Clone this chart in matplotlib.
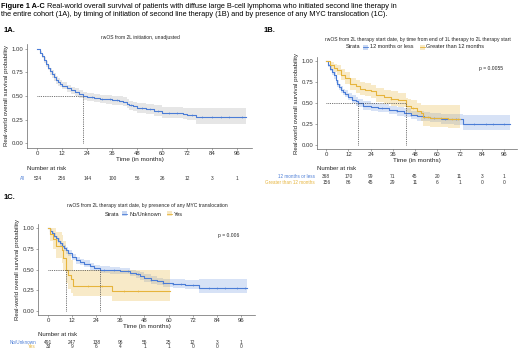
import numpy as np
import matplotlib
matplotlib.use("Agg")
import matplotlib.pyplot as plt
from matplotlib.transforms import blended_transform_factory
from matplotlib.patches import Rectangle
from matplotlib.lines import Line2D

plt.rcParams["font.family"] = ["Liberation Sans", "DejaVu Sans"]

W, H = 520, 351
BLUE = "#4a7cd6"
GOLD = "#e6b43c"
AX_COL = "#666666"

TICKS = [0, 12, 24, 36, 48, 60, 72, 84, 96]

# 1A - all patients
a_t = [0, 1, 2, 3, 4, 5, 6, 7, 8, 9, 10, 11, 12, 14, 16, 18, 20, 22, 24, 27, 30, 33, 36, 39, 41, 43,
       44, 46, 48, 52, 56, 60, 66, 70, 72, 76, 100]
a_s = [1.0, 0.96, 0.92, 0.88, 0.84, 0.80, 0.76, 0.73, 0.70, 0.67, 0.65, 0.63, 0.61, 0.58, 0.56, 0.54,
       0.52, 0.50, 0.49, 0.48, 0.47, 0.465, 0.46, 0.45, 0.44, 0.42, 0.40, 0.39, 0.375, 0.36, 0.34, 0.32,
       0.32, 0.31, 0.30, 0.275, 0.275]
a_lo = [1.0, 0.94, 0.90, 0.85, 0.81, 0.77, 0.72, 0.69, 0.66, 0.63, 0.61, 0.59, 0.57, 0.54, 0.52, 0.50,
        0.48, 0.46, 0.45, 0.44, 0.43, 0.42, 0.41, 0.40, 0.39, 0.37, 0.35, 0.34, 0.32, 0.31, 0.29, 0.27,
        0.27, 0.26, 0.25, 0.20, 0.20]
a_hi = [1.0, 0.98, 0.94, 0.91, 0.87, 0.83, 0.80, 0.77, 0.74, 0.71, 0.69, 0.67, 0.65, 0.62, 0.60, 0.58,
        0.56, 0.54, 0.53, 0.52, 0.51, 0.51, 0.50, 0.50, 0.49, 0.47, 0.45, 0.44, 0.43, 0.42, 0.40, 0.38,
        0.38, 0.37, 0.37, 0.375, 0.375]
a_cens = [26, 31, 35, 38, 45, 50, 54, 58, 63, 67, 74, 79, 84, 88, 92, 98]
a_med = 22
a_risk = [524, 256, 144, 100, 56, 26, 12, 3, 1]

# 1B - time from end of 1L to 2L
b1_t = [0, 1, 2, 3, 4, 5, 6, 7, 8, 9, 10, 12, 14, 16, 17, 20, 24, 28, 34, 38, 42, 46, 49, 53, 56, 62,
        69, 74, 99]
b1_s = [1.0, 0.95, 0.91, 0.87, 0.83, 0.78, 0.73, 0.69, 0.66, 0.63, 0.61, 0.57, 0.54, 0.52, 0.50, 0.47,
        0.45, 0.44, 0.42, 0.40, 0.385, 0.36, 0.34, 0.33, 0.32, 0.31, 0.31, 0.25, 0.25]
b1_lo = [1.0, 0.93, 0.88, 0.83, 0.79, 0.74, 0.69, 0.65, 0.62, 0.59, 0.57, 0.53, 0.50, 0.47, 0.45, 0.42,
         0.41, 0.39, 0.37, 0.35, 0.33, 0.31, 0.29, 0.28, 0.27, 0.25, 0.24, 0.175, 0.175]
b1_hi = [1.0, 0.97, 0.94, 0.91, 0.87, 0.82, 0.77, 0.73, 0.70, 0.67, 0.65, 0.62, 0.59, 0.57, 0.55, 0.52,
         0.50, 0.49, 0.47, 0.45, 0.44, 0.41, 0.40, 0.39, 0.38, 0.37, 0.37, 0.36, 0.36]
b1_cens = [30, 38, 46, 53, 58, 64, 70, 80, 86, 90, 96]
b1_med = 17
b2_t = [0, 2, 4, 6, 8, 10, 13, 16, 18, 21, 24, 27, 31, 35, 39, 43, 44, 46, 49, 51, 52.5, 56, 60, 66, 72]
b2_s = [1.0, 0.95, 0.92, 0.89, 0.84, 0.80, 0.73, 0.70, 0.67, 0.66, 0.64, 0.59, 0.57, 0.55, 0.53, 0.47,
        0.46, 0.44, 0.41, 0.38, 0.33, 0.325, 0.32, 0.31, 0.31]
b2_lo = [1.0, 0.91, 0.87, 0.83, 0.77, 0.73, 0.65, 0.62, 0.59, 0.58, 0.56, 0.51, 0.49, 0.47, 0.45, 0.39,
         0.38, 0.36, 0.33, 0.29, 0.22, 0.21, 0.21, 0.20, 0.20]
b2_hi = [1.0, 0.99, 0.97, 0.95, 0.91, 0.87, 0.80, 0.78, 0.75, 0.74, 0.72, 0.68, 0.66, 0.64, 0.62, 0.56,
         0.55, 0.53, 0.50, 0.48, 0.48, 0.48, 0.48, 0.48, 0.48]
b2_cens = [35, 47, 55, 62, 68, 71]
b2_med = 43
b_risk1 = [368, 170, 99, 71, 45, 20, 11, 3, 1]
b_risk2 = [156, 86, 45, 29, 11, 6, 1, 0, 0]

# 1C - MYC translocation
c1_t = [0, 1, 2, 3, 4, 5, 6, 7, 8, 9, 10, 12, 14, 16, 18, 21, 23, 26, 31, 36, 41, 44, 46, 48, 51, 54,
        57, 62, 68, 75, 99]
c1_s = [1.0, 0.97, 0.94, 0.91, 0.88, 0.85, 0.82, 0.79, 0.76, 0.73, 0.70, 0.65, 0.61, 0.59, 0.57, 0.54,
        0.52, 0.50, 0.49, 0.48, 0.46, 0.44, 0.42, 0.40, 0.37, 0.355, 0.34, 0.33, 0.31, 0.28, 0.28]
c1_lo = [1.0, 0.95, 0.92, 0.88, 0.85, 0.82, 0.79, 0.76, 0.72, 0.69, 0.66, 0.61, 0.57, 0.55, 0.53, 0.50,
         0.48, 0.46, 0.45, 0.44, 0.42, 0.40, 0.37, 0.35, 0.32, 0.31, 0.29, 0.28, 0.27, 0.21, 0.21]
c1_hi = [1.0, 0.99, 0.96, 0.94, 0.91, 0.88, 0.85, 0.82, 0.80, 0.77, 0.74, 0.69, 0.65, 0.63, 0.61, 0.58,
         0.56, 0.54, 0.53, 0.52, 0.50, 0.48, 0.47, 0.45, 0.42, 0.40, 0.39, 0.38, 0.37, 0.39, 0.39]
c1_cens = [28, 33, 40, 45, 51, 57, 62, 66, 72, 80, 84, 88, 94, 98]
c1_med = 26
c2_t = [0, 1, 2.5, 4, 6.7, 7.5, 9, 10, 11.5, 12.5, 31.6, 60.7]
c2_s = [1.0, 0.93, 0.87, 0.78, 0.74, 0.64, 0.50, 0.43, 0.38, 0.30, 0.24, 0.24]
c2_lo = [1.0, 0.85, 0.75, 0.64, 0.58, 0.48, 0.34, 0.27, 0.22, 0.175, 0.12, 0.12]
c2_hi = [1.0, 1.0, 1.0, 0.95, 0.92, 0.84, 0.74, 0.70, 0.62, 0.50, 0.50, 0.50]
c2_cens = [20, 27, 38, 45]
c2_med = 9
c_risk1 = [491, 247, 138, 96, 55, 25, 12, 3, 1]
c_risk2 = [33, 9, 6, 4, 1, 1, 0, 0, 0]

fig = plt.figure(figsize=(W / 100, H / 100), dpi=100)


def fx(x):
    return x / W


def fy(y):
    return 1 - y / H


def px_axes(l, t, r, b):
    return fig.add_axes([fx(l), fy(b), (r - l) / W, (b - t) / H])


def style(ax):
    ax.set_xlim(-5, 103)
    ax.set_ylim(-0.05, 1.05)
    for s in ("top", "right"):
        ax.spines[s].set_visible(False)
    for s in ("left", "bottom"):
        ax.spines[s].set_color(AX_COL)
        ax.spines[s].set_linewidth(0.5)
    ax.set_xticks(TICKS)
    ax.set_yticks([0, 0.25, 0.5, 0.75, 1.0])
    ax.set_yticklabels(["0.00", "0.25", "0.50", "0.75", "1.00"])
    ax.tick_params(labelsize=4.3, length=1.5, width=0.4, color=AX_COL, pad=1, labelcolor="#333333")
    ax.set_xlabel("Time (in months)", fontsize=4.6, labelpad=0.5, color="#222222")
    ax.set_ylabel("Real-world overall survival probability", fontsize=4.4, labelpad=2, color="#222222")
    ax.patch.set_alpha(0)


def km(ax, t, s, lo, hi, color, cens, band=None, alpha=0.22):
    if band is None:
        ax.fill_between(t, lo, hi, step="post", color=color, alpha=alpha, lw=0)
    else:
        ax.fill_between(t, lo, hi, step="post", color=band, lw=0)
    ax.step(t, s, where="post", color=color, lw=0.8)
    t = np.asarray(t)
    s = np.asarray(s)
    idx = np.searchsorted(t, cens, side="right") - 1
    ax.plot(cens, s[idx], ls="none", marker="+", ms=1.8, mew=0.4, color=color)


def medians(ax, meds):
    ax.plot([0, max(meds)], [0.5, 0.5], ls=(0, (1, 1.2)), color="#444444", lw=0.6)
    for m in meds:
        ax.plot([m, m], [0, 0.5], ls=(0, (1, 1.2)), color="#444444", lw=0.6)


def risk_table(ax, title_y, x_title, rows):
    tr = blended_transform_factory(ax.transData, fig.transFigure)
    fig.text(fx(x_title), fy(title_y), "Number at risk", fontsize=4.3, va="center", color="#222222")
    for label, color, vals, y in rows:
        fig.text(fx(x_title - 2), fy(y), label, fontsize=3.3, va="center", ha="right", color=color)
        for tk, v in zip(TICKS, vals):
            ax.text(tk, fy(y), str(v), transform=tr, fontsize=3.5, ha="center", va="center",
                    color="#333333")


def legend(cx, y, labels):
    # "Strata" + keys laid out centred on cx
    r = fig.canvas.get_renderer()
    t0 = fig.text(0, 0, "Strata", fontsize=4.0)
    w0 = t0.get_window_extent(r).width
    t0.remove()
    widths = []
    for lab, _ in labels:
        tt = fig.text(0, 0, lab, fontsize=4.0)
        widths.append(tt.get_window_extent(r).width)
        tt.remove()
    key = 5
    gap = 3
    total = w0 + gap + sum(key + 2 + w + gap * 2 for w in widths)
    x = cx - total / 2
    fig.text(fx(x), fy(y), "Strata", fontsize=4.0, va="center", color="#222222")
    x += w0 + gap
    for (lab, col), w in zip(labels, widths):
        fig.patches.append(Rectangle((fx(x), fy(y + 2.5)), key / W, 5 / H, transform=fig.transFigure,
                                     facecolor=col, alpha=0.3, edgecolor="none"))
        fig.lines.append(Line2D([fx(x), fx(x + key)], [fy(y), fy(y)], transform=fig.transFigure,
                                color=col, lw=0.6))
        x += key + 2
        fig.text(fx(x), fy(y), lab, fontsize=4.0, va="center", color="#222222")
        x += w + gap * 2


# header
r = fig.canvas.get_renderer()
hb = fig.text(fx(1), fy(6), "Figure 1 A-C", fontsize=5.35, weight="bold", va="center")
bw = hb.get_window_extent(r).width
fig.text(fx(1 + bw), fy(6), " Real-world overall survival of patients with diffuse large B-cell lymphoma "
         "who initiated second line therapy in", fontsize=5.35, va="center")
fig.text(fx(1), fy(15), "the entire cohort (1A), by timing of initiation of second line therapy (1B) and "
         "by presence of any MYC translocation (1C).", fontsize=5.35, va="center")

# 1A
fig.text(fx(4), fy(31), "1A.", fontsize=5.5, weight="bold", va="center")
fig.text(fx(140), fy(38), "rwOS from 2L initiation, unadjusted", fontsize=3.6, ha="center", va="center",
         color="#222222")
axA = px_axes(27, 44, 252, 148)
style(axA)
km(axA, a_t, a_s, a_lo, a_hi, BLUE, a_cens, band="#e6e6e6")
medians(axA, [a_med])
risk_table(axA, 169, 27, [("All", BLUE, a_risk, 179)])

# 1B
fig.text(fx(264), fy(31), "1B.", fontsize=5.5, weight="bold", va="center")
fig.text(fx(418), fy(39), "rwOS from 2L therapy start date, by time from end of 1L therapy to 2L therapy start",
         fontsize=3.6, ha="center", va="center", color="#222222")
legend(418, 47, [("12 months or less", BLUE), ("Greater than 12 months", GOLD)])
axB = px_axes(317, 57, 517, 149)
style(axB)
km(axB, b1_t, b1_s, b1_lo, b1_hi, BLUE, b1_cens)
km(axB, b2_t, b2_s, b2_lo, b2_hi, GOLD, b2_cens, alpha=0.28)
medians(axB, [b1_med, b2_med])
axB.text(0.87, 0.86, "p = 0.0055", transform=axB.transAxes, fontsize=3.6, ha="center", color="#222222")
risk_table(axB, 168, 317, [("12 months or less", BLUE, b_risk1, 177),
                           ("Greater than 12 months", GOLD, b_risk2, 182)])

# 1C
fig.text(fx(4), fy(197), "1C.", fontsize=5.5, weight="bold", va="center")
fig.text(fx(147), fy(205), "rwOS from 2L therapy start date, by presence of any MYC translocation",
         fontsize=3.6, ha="center", va="center", color="#222222")
legend(147, 214, [("No/Unknown", BLUE), ("Yes", GOLD)])
axC = px_axes(38, 224, 255, 315)
style(axC)
km(axC, c1_t, c1_s, c1_lo, c1_hi, BLUE, c1_cens)
km(axC, c2_t, c2_s, c2_lo, c2_hi, GOLD, c2_cens, alpha=0.28)
medians(axC, [c2_med, c1_med])
axC.text(0.88, 0.86, "p = 0.006", transform=axC.transAxes, fontsize=3.6, ha="center", color="#222222")
risk_table(axC, 334, 38, [("No/Unknown", BLUE, c_risk1, 343), ("Yes", GOLD, c_risk2, 347)])

fig.savefig("out.png", dpi=100)
